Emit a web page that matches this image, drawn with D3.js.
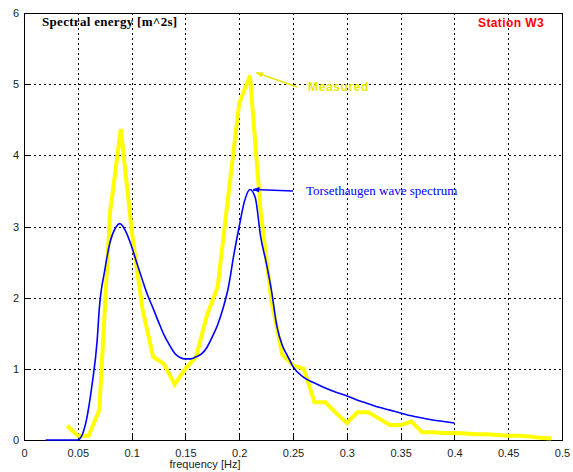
<!DOCTYPE html>
<html>
<head>
<meta charset="utf-8">
<script src="https://cdn.jsdelivr.net/npm/d3@7"></script>
<style>
  body { margin: 0; background: #fff; }
  svg { display: block; }
  .tick text { font-family: Arial, 'Liberation Sans', sans-serif; font-size: 11px; fill: #222; }
  .grid line { stroke: #000; stroke-dasharray: 2,3; shape-rendering: crispEdges; }
  .grid .domain { display: none; }
</style>
</head>
<body>
<svg width="573" height="472"></svg>
<script>
// measured spectrum, 0.01 Hz steps
const measuredFreq = [0.04, 0.05, 0.06, 0.07, 0.08, 0.09, 0.10, 0.11, 0.12, 0.13, 0.14, 0.15,
  0.16, 0.17, 0.18, 0.19, 0.20, 0.21, 0.22, 0.23, 0.24, 0.25, 0.26, 0.27, 0.28, 0.29, 0.30,
  0.31, 0.32, 0.33, 0.34, 0.35, 0.36, 0.37, 0.38, 0.39, 0.40, 0.41, 0.42, 0.43, 0.44, 0.45,
  0.46, 0.47, 0.48, 0.49];
const measuredEnergy = [0.2, 0.06, 0.06, 0.42, 3.2, 4.37, 2.95, 1.85, 1.17, 1.07, 0.78, 1.0,
  1.17, 1.75, 2.15, 3.45, 4.73, 5.12, 3.2, 1.95, 1.2, 1.05, 1.0, 0.53, 0.53, 0.38, 0.24,
  0.39, 0.39, 0.3, 0.21, 0.21, 0.26, 0.11, 0.11, 0.1, 0.1, 0.09, 0.08, 0.08, 0.07, 0.06,
  0.06, 0.05, 0.03, 0.02];

// Torsethaugen model spectrum
const modelFreq = [0.02, 0.03, 0.04, 0.05, 0.053, 0.058, 0.063, 0.068, 0.07, 0.075, 0.08, 0.085,
  0.089, 0.094, 0.10, 0.105, 0.11, 0.115, 0.12, 0.125, 0.13, 0.135, 0.14, 0.145, 0.15, 0.155,
  0.16, 0.165, 0.17, 0.175, 0.18, 0.185, 0.19, 0.195, 0.20, 0.205, 0.21, 0.215, 0.22, 0.225,
  0.23, 0.235, 0.24, 0.245, 0.25, 0.26, 0.27, 0.28, 0.29, 0.30, 0.31, 0.32, 0.33, 0.34, 0.35,
  0.36, 0.37, 0.38, 0.39, 0.40];
const modelEnergy = [0, 0, 0, 0, 0.04, 0.28, 0.75, 1.4, 1.85, 2.38, 2.78, 2.98,
  3.04, 2.95, 2.72, 2.48, 2.25, 2.03, 1.85, 1.66, 1.48, 1.34, 1.22, 1.16, 1.14, 1.14,
  1.17, 1.21, 1.3, 1.45, 1.62, 1.85, 2.15, 2.6, 3.0, 3.36, 3.52, 3.4, 2.85, 2.5,
  2.1, 1.6, 1.33, 1.18, 1.03, 0.88, 0.8, 0.73, 0.67, 0.62, 0.56, 0.51, 0.46, 0.42, 0.38,
  0.34, 0.31, 0.28, 0.26, 0.24];

const xTicks = [0, 0.05, 0.1, 0.15, 0.2, 0.25, 0.3, 0.35, 0.4, 0.45, 0.5];
const yTicks = [0, 1, 2, 3, 4, 5, 6];

const svg = d3.select('svg');
const plotLeft = 24, plotRight = 562, plotTop = 13, plotBottom = 440;

const x = d3.scaleLinear().domain([0, 0.5]).range([plotLeft, plotRight]);
const y = d3.scaleLinear().domain([0, 6]).range([plotBottom, plotTop]);

// grid
svg.append('g')
  .attr('class', 'grid')
  .attr('transform', `translate(0, ${plotBottom})`)
  .call(d3.axisBottom(x).tickValues(xTicks).tickSize(-(plotBottom - plotTop)).tickFormat(''));

svg.append('g')
  .attr('class', 'grid')
  .attr('transform', `translate(${plotLeft}, 0)`)
  .call(d3.axisLeft(y).tickValues(yTicks).tickSize(-(plotRight - plotLeft)).tickFormat(''));

// axes, ticks pointing inwards
svg.append('g')
  .attr('transform', `translate(0, ${plotBottom})`)
  .call(d3.axisBottom(x).tickValues(xTicks).tickSize(-5).tickPadding(9)
    .tickFormat((d) => d3.format('')(d)));

svg.append('g')
  .attr('transform', `translate(${plotLeft}, 0)`)
  .call(d3.axisLeft(y).tickValues(yTicks).tickSize(-5).tickPadding(5)
    .tickFormat(d3.format('d')));

svg.selectAll('.domain').attr('stroke', '#000').attr('shape-rendering', 'crispEdges');
svg.selectAll('.tick line').attr('shape-rendering', 'crispEdges');

// box around plot
svg.append('rect')
  .attr('x', plotLeft)
  .attr('y', plotTop)
  .attr('width', plotRight - plotLeft)
  .attr('height', plotBottom - plotTop)
  .attr('fill', 'none')
  .attr('stroke', '#000')
  .attr('shape-rendering', 'crispEdges');

const measured = measuredFreq.map((f, i) => [f, measuredEnergy[i]]);
const model = modelFreq.map((f, i) => [f, modelEnergy[i]]);

const line = d3.line()
  .x((d) => x(d[0]))
  .y((d) => y(d[1]));

svg.append('path')
  .datum(measured)
  .attr('d', line)
  .attr('fill', 'none')
  .attr('stroke', '#ffff00')
  .attr('stroke-width', 4)
  .attr('stroke-linejoin', 'miter');

svg.append('path')
  .datum(model)
  .attr('d', line.curve(d3.curveMonotoneX))
  .attr('fill', 'none')
  .attr('stroke', '#0000ff')
  .attr('stroke-width', 1.6);

// arrow heads
const defs = svg.append('defs');
[['headY', '#e8e800'], ['headB', '#0000ff']].forEach(([id, c]) => {
  defs.append('marker')
    .attr('id', id)
    .attr('viewBox', '0 0 10 10')
    .attr('refX', 9)
    .attr('refY', 5)
    .attr('markerWidth', 7)
    .attr('markerHeight', 7)
    .attr('markerUnits', 'userSpaceOnUse')
    .attr('orient', 'auto')
    .append('path')
    .attr('d', 'M0,1 L10,5 L0,9 Z')
    .attr('fill', c);
});

// annotations (data coords)
const notes = [
  { text: 'Measured', from: [0.254, 4.96], to: [0.216, 5.16], at: [0.264, 4.96],
    color: '#e8e800', marker: 'headY', font: 'Arial, "Liberation Sans", sans-serif', size: 12, weight: 'bold', spacing: 0.6 },
  { text: 'Torsethaugen wave spectrum', from: [0.250, 3.50], to: [0.213, 3.52], at: [0.262, 3.50],
    color: '#0000ff', marker: 'headB', font: '"Times New Roman", "Liberation Serif", serif', size: 13, weight: 'normal', spacing: 0 }
];

notes.forEach((n) => {
  svg.append('line')
    .attr('x1', x(n.from[0]))
    .attr('y1', y(n.from[1]))
    .attr('x2', x(n.to[0]))
    .attr('y2', y(n.to[1]))
    .attr('stroke', n.color)
    .attr('stroke-width', 1.5)
    .attr('marker-end', `url(#${n.marker})`);

  svg.append('text')
    .attr('x', x(n.at[0]))
    .attr('y', y(n.at[1]))
    .attr('dy', '0.35em')
    .attr('fill', n.color)
    .style('font-family', n.font)
    .style('font-size', `${n.size}px`)
    .style('font-weight', n.weight)
    .style('letter-spacing', `${n.spacing}px`)
    .text(n.text);
});

svg.append('text')
  .attr('x', 42)
  .attr('y', 26)
  .style('font-family', '"Times New Roman", "Liberation Serif", serif')
  .style('font-size', '13px')
  .style('font-weight', 'bold')
  .style('letter-spacing', '0.3px')
  .text('Spectral energy [m^2s]');

svg.append('text')
  .attr('x', 478)
  .attr('y', 27)
  .attr('fill', '#ff0000')
  .style('font-family', 'Arial, "Liberation Sans", sans-serif')
  .style('font-size', '12px')
  .style('font-weight', 'bold')
  .style('letter-spacing', '0.4px')
  .text('Station W3');

svg.append('text')
  .attr('x', 205)
  .attr('y', 468)
  .attr('text-anchor', 'middle')
  .attr('fill', '#222')
  .style('font-family', 'Arial, "Liberation Sans", sans-serif')
  .style('font-size', '11px')
  .text('frequency [Hz]');
</script>
</body>
</html>
